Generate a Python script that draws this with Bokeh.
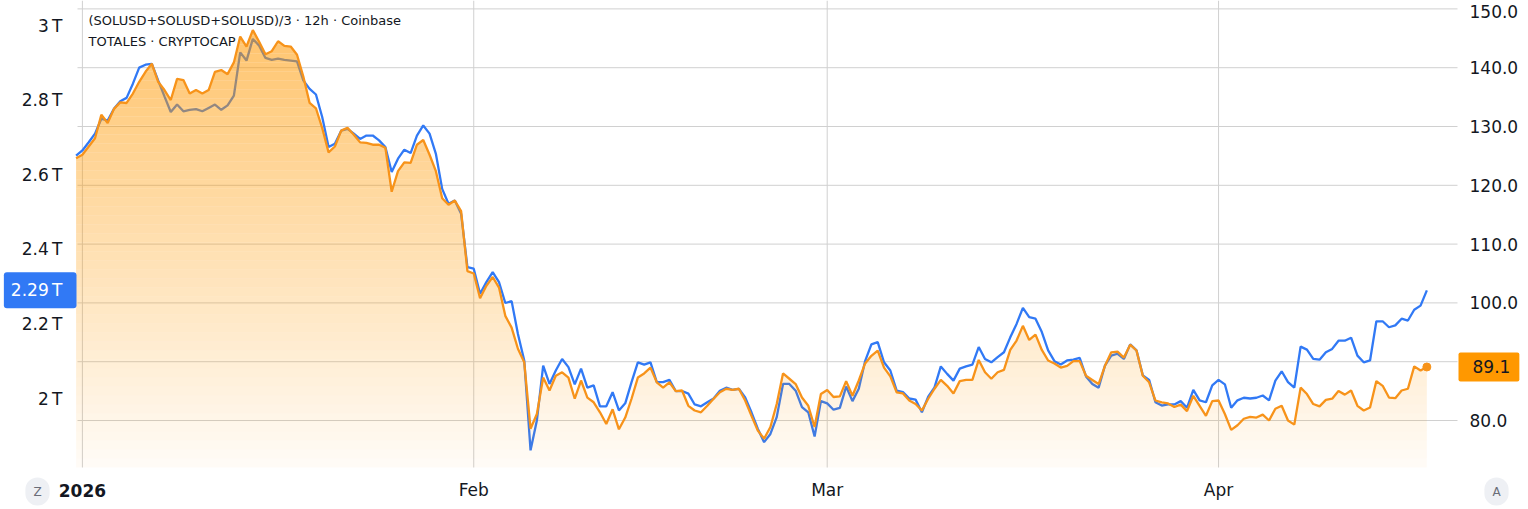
import numpy as np
import pandas as pd
from bokeh.plotting import figure
from bokeh.models import Range1d, LinearAxis, DatetimeAxis, FixedTicker, NumeralTickFormatter, Label
from bokeh.embed import file_html
from bokeh.resources import INLINE

# ---------------- data ----------------
start_time = "2025-12-31 12:00"   # 12h candles
sol_price = [
    124.6, 125.2, 126.6, 128.0, 132.0, 130.6, 133.0, 134.1, 134.0, 135.6,
    137.6, 139.3, 140.7, 137.6, 136.2, 134.5, 138.1, 137.9, 135.6, 136.2,
    135.6, 136.2, 139.3, 139.6, 138.9, 140.9, 145.3, 143.6, 146.4, 144.4,
    142.3, 142.8, 144.5, 143.7, 143.6, 142.2, 138.5, 134.0, 133.1, 129.7,
    125.6, 126.6, 129.3, 129.8, 128.6, 127.3, 127.2, 126.9, 126.9, 126.4,
    118.9, 122.4, 123.9, 123.8, 126.9, 127.7, 125.2, 122.4, 117.8, 116.7,
    117.4, 115.6, 105.4, 105.0, 100.8, 102.9, 104.4, 102.6, 97.8, 95.8,
    92.2, 89.9, 78.6, 81.1, 87.3, 85.1, 87.6, 88.2, 87.3, 83.7,
    86.8, 83.9, 83.1, 81.4, 79.4, 81.9, 78.5, 80.5, 83.7, 87.3,
    88.0, 89.0, 86.5, 85.6, 86.5, 85.0, 85.1, 82.5, 81.7, 81.4,
    82.5, 83.7, 84.8, 85.4, 85.2, 85.4, 83.4, 80.8, 78.3, 76.9,
    78.9, 82.8, 88.0, 87.1, 86.2, 83.9, 82.5, 78.9, 84.5, 85.2,
    84.0, 84.1, 86.7, 84.2, 86.8, 89.7, 91.0, 91.9, 89.0, 87.5,
    84.8, 84.6, 83.4, 82.8, 81.7, 83.7, 85.4, 86.9, 85.9, 84.6,
    86.7, 86.9, 86.9, 90.3, 88.2, 87.1, 88.2, 88.6, 92.0, 93.6,
    96.1, 93.7, 94.6, 92.0, 90.2, 89.7, 89.0, 89.3, 90.1, 90.1,
    87.6, 86.9, 86.2, 89.3, 91.6, 91.7, 90.7, 92.9, 91.9, 87.6,
    86.5, 83.4, 83.1, 82.9, 82.3, 82.7, 81.6, 84.2, 82.5, 80.8,
    83.3, 83.4, 81.1, 78.4, 79.2, 80.3, 80.6, 80.5, 81.0, 80.0,
    82.0, 82.5, 80.0, 79.3, 85.6, 84.5, 82.8, 82.4, 83.5, 83.7,
    85.0, 84.4, 85.1, 82.5, 81.7, 82.2, 86.7, 85.9, 83.9, 83.8,
    85.1, 85.4, 89.2, 88.5, 89.1,
]
total_cap = [
    2.651, 2.665, 2.687, 2.710, 2.750, 2.745, 2.777, 2.797, 2.806, 2.844,
    2.887, 2.895, 2.897, 2.853, 2.810, 2.768, 2.788, 2.770, 2.774, 2.776,
    2.770, 2.779, 2.788, 2.774, 2.786, 2.812, 2.928, 2.906, 2.964, 2.946,
    2.913, 2.908, 2.911, 2.908, 2.906, 2.904, 2.853, 2.830, 2.815, 2.754,
    2.674, 2.683, 2.718, 2.723, 2.710, 2.696, 2.705, 2.705, 2.692, 2.674,
    2.607, 2.643, 2.667, 2.658, 2.705, 2.732, 2.710, 2.656, 2.562, 2.522,
    2.531, 2.495, 2.352, 2.348, 2.281, 2.312, 2.339, 2.312, 2.256, 2.261,
    2.173, 2.102, 1.861, 1.941, 2.088, 2.039, 2.075, 2.106, 2.084, 2.038,
    2.080, 2.029, 2.035, 1.979, 1.979, 2.017, 1.968, 1.987, 2.044, 2.097,
    2.091, 2.097, 2.044, 2.044, 2.050, 2.020, 2.020, 2.013, 1.984, 1.979,
    1.990, 2.000, 2.021, 2.029, 2.023, 2.026, 2.003, 1.963, 1.919, 1.883,
    1.905, 1.950, 2.039, 2.039, 2.021, 1.977, 1.963, 1.898, 1.993, 1.987,
    1.970, 1.975, 2.032, 1.993, 2.026, 2.100, 2.145, 2.151, 2.097, 2.075,
    2.021, 2.017, 2.000, 1.997, 1.963, 2.005, 2.030, 2.086, 2.066, 2.048,
    2.080, 2.086, 2.091, 2.138, 2.106, 2.097, 2.111, 2.124, 2.164, 2.200,
    2.243, 2.218, 2.214, 2.178, 2.129, 2.100, 2.091, 2.102, 2.104, 2.109,
    2.059, 2.039, 2.029, 2.088, 2.115, 2.120, 2.106, 2.145, 2.129, 2.062,
    2.050, 1.990, 1.981, 1.984, 1.984, 1.993, 1.975, 2.023, 1.995, 1.990,
    2.035, 2.050, 2.038, 1.975, 1.995, 2.002, 2.000, 2.002, 2.008, 1.995,
    2.048, 2.073, 2.044, 2.029, 2.139, 2.131, 2.106, 2.104, 2.124, 2.133,
    2.155, 2.155, 2.163, 2.115, 2.097, 2.102, 2.207, 2.207, 2.191, 2.196,
    2.214, 2.209, 2.238, 2.249, 2.290,
]
year_tick_date = "2026-01-01"
year_tick_label = "2026"
month_tick_dates = ["2026-02-01", "2026-03-01", "2026-04-01"]
month_tick_labels = ["Feb", "Mar", "Apr"]
cap_ticks = [2.0, 2.2, 2.4, 2.6, 2.8, 3.0]
cap_tick_labels = ["2\u202fT", "2.2\u202fT", "2.4\u202fT", "2.6\u202fT", "2.8\u202fT", "3\u202fT"]
price_ticks = [80, 90, 100, 110, 120, 130, 140, 150]
legend_lines = ["(SOLUSD+SOLUSD+SOLUSD)/3 \u00b7 12h \u00b7 Coinbase", "TOTALES \u00b7 CRYPTOCAP"]

# ---------------- styling ----------------
BLUE = "#3179f5"
ORANGE = "#f7931a"
BADGE_ORANGE = "#ff9800"
TEXT = "#131722"
GRID = "#d0d0d0"
FONT = "DejaVu Sans"
LW = 2.3

times = pd.date_range(start_time, periods=len(sol_price), freq="12h")
tx = np.array([t.value // 10**6 for t in times], dtype=float)
DAY = 86400000.0

def ms(d):
    return float(pd.Timestamp(d).value // 10**6)

jan1 = ms(year_tick_date)
year_ticks = [jan1]
month_ticks = [ms(d) for d in month_tick_dates]
all_x_ticks = year_ticks + month_ticks

# whole canvas is the frame; the price pane is an inner box of it
PX_PER_DAY = 12.624
JAN1_PX = 81.9
W, H = 1528, 509
PANE_L, PANE_R, PANE_T, PANE_B = 77, 1457, 8, 467
PX_PER_USD = 5.88      # price: 80 at y=420
PX_PER_T = 373.0       # cap: 2T at y=398

def xval(px):
    return jan1 + (px - JAN1_PX) / PX_PER_DAY * DAY

def pval(py):
    return 80 + (420 - py) / PX_PER_USD

def cval(py):
    return 2.0 + (398 - py) / PX_PER_T

XL, XR = xval(PANE_L), xval(PANE_R)
YT, YB = pval(PANE_T), pval(PANE_B)

p = figure(width=W, height=H, x_axis_type="datetime",
           x_range=Range1d(xval(0), xval(W)), y_range=Range1d(pval(H), pval(0)),
           x_axis_location=None, y_axis_location=None,
           output_backend="svg", toolbar_location=None,
           min_border_left=0, min_border_right=0, min_border_top=0, min_border_bottom=0)
p.outline_line_color = None
p.background_fill_color = "white"
p.border_fill_color = "white"
p.grid.visible = False
p.extra_y_ranges = {"cap": Range1d(cval(H), cval(0))}

ra = LinearAxis(ticker=FixedTicker(ticks=price_ticks[:-1]),
                formatter=NumeralTickFormatter(format="0.0"), fixed_location=XR)
la = LinearAxis(y_range_name="cap", ticker=FixedTicker(ticks=cap_ticks), fixed_location=XL,
                major_label_overrides=dict(zip(cap_ticks, cap_tick_labels)))
xa = DatetimeAxis(ticker=FixedTicker(ticks=month_ticks), fixed_location=YB,
                  major_label_overrides=dict(zip(month_ticks, month_tick_labels)))
ya = DatetimeAxis(ticker=FixedTicker(ticks=year_ticks), fixed_location=YB,
                  major_label_overrides={jan1: year_tick_label})
p.add_layout(ra, "right")
p.add_layout(la, "left")
p.add_layout(xa, "below")
p.add_layout(ya, "below")
for ax, so in ((ra, 12), (la, 15), (xa, 12), (ya, 16)):
    ax.axis_line_color = None
    ax.major_tick_line_color = None
    ax.minor_tick_line_color = None
    ax.major_tick_out = 0
    ax.major_tick_in = 0
    ax.major_label_standoff = so
    ax.major_label_text_font = FONT
    ax.major_label_text_font_size = "17px"
    ax.major_label_text_color = TEXT
ya.major_label_text_font_style = "bold"

# grid lines limited to the price pane
p.segment(x0=XL, x1=XR, y0=price_ticks, y1=price_ticks, line_color=GRID, line_width=1)
p.segment(x0=all_x_ticks, x1=all_x_ticks, y0=YB, y1=pval(0), line_color=GRID, line_width=1)

# blue TOTAL line, under the orange area
p.line(times, total_cap, y_range_name="cap", line_color=BLUE, line_width=LW)

# orange gradient area: pixel-aligned horizontal bands (line/band crossings inserted)
ty = np.array(sol_price, dtype=float)
FRAME_H = PANE_B - PANE_T
step_px = 9
nb = FRAME_H // step_px
levels = YT - (YT - YB) * np.arange(nb + 1) * step_px / FRAME_H
xs, ys = [tx[0]], [ty[0]]
for j in range(len(tx) - 1):
    y0, y1 = ty[j], ty[j + 1]
    a, b = min(y0, y1), max(y0, y1)
    cr = levels[(levels > a) & (levels < b)]
    if len(cr):
        f = (cr - y0) / (y1 - y0)
        order = np.argsort(f)
        for fi, ci in zip(f[order], cr[order]):
            xs.append(tx[j] + fi * (tx[j + 1] - tx[j]))
            ys.append(ci)
    xs.append(tx[j + 1])
    ys.append(y1)
xs = np.array(xs)
ys = np.array(ys)
a_top, a_bot = 0.6, 0.03
for k in range(nb):
    top, bot = levels[k], levels[k + 1]
    y2 = np.clip(ys, bot, top)
    if y2.max() <= bot:
        continue
    t = (k + 0.5) / nb
    p.varea(x=xs, y1=bot, y2=y2, fill_color=BADGE_ORANGE,
            fill_alpha=a_top + (a_bot - a_top) * t)

p.line(times, sol_price, line_color=ORANGE, line_width=LW)
p.scatter([times[-1]], [sol_price[-1]], size=8, fill_color=ORANGE, line_color=ORANGE)

# top price label (kept inside the canvas)
p.add_layout(Label(x=XR, y=price_ticks[-1], x_offset=12, y_offset=-3,
                   text=f"{price_ticks[-1]:.1f}", text_align="left", text_baseline="middle",
                   text_font=FONT, text_font_size="17px", text_color=TEXT))

# last-value badges
p.add_layout(Label(x=XL, y=total_cap[-1], y_range_name="cap", x_offset=-1,
                   text=f"{total_cap[-1]:.2f}\u202fT", text_align="right", text_baseline="middle",
                   text_font=FONT, text_font_size="17px", text_color="white",
                   background_fill_color=BLUE, padding=(7, 14, 8, 8), border_radius=3))
p.add_layout(Label(x=XR, y=sol_price[-1], x_offset=1,
                   text=f"{sol_price[-1]:.1f}", text_align="left", text_baseline="middle",
                   text_font=FONT, text_font_size="17px", text_color=TEXT,
                   background_fill_color=BADGE_ORANGE, padding=(14, 9, 8, 8), border_radius=2))

# series legend
for i, txt in enumerate(legend_lines):
    p.add_layout(Label(x=XL, y=YT, x_offset=11, y_offset=-12 - 21 * i, text=txt,
                       text_align="left", text_baseline="middle",
                       text_font=FONT, text_font_size="13px", text_color=TEXT))

# corner buttons
for txt, xx, off in (("Z", XL, -40), ("A", XR, 39)):
    p.add_layout(Label(x=xx, y=YB, x_offset=off, y_offset=-24, text=txt,
                       text_align="center", text_baseline="middle",
                       text_font=FONT, text_font_size="12px", text_color="#6a6d78",
                       background_fill_color="#eef0f4", padding=(8, 8, 7, 7), border_radius=12))

open("out.html", "w").write(file_html(p, INLINE))
